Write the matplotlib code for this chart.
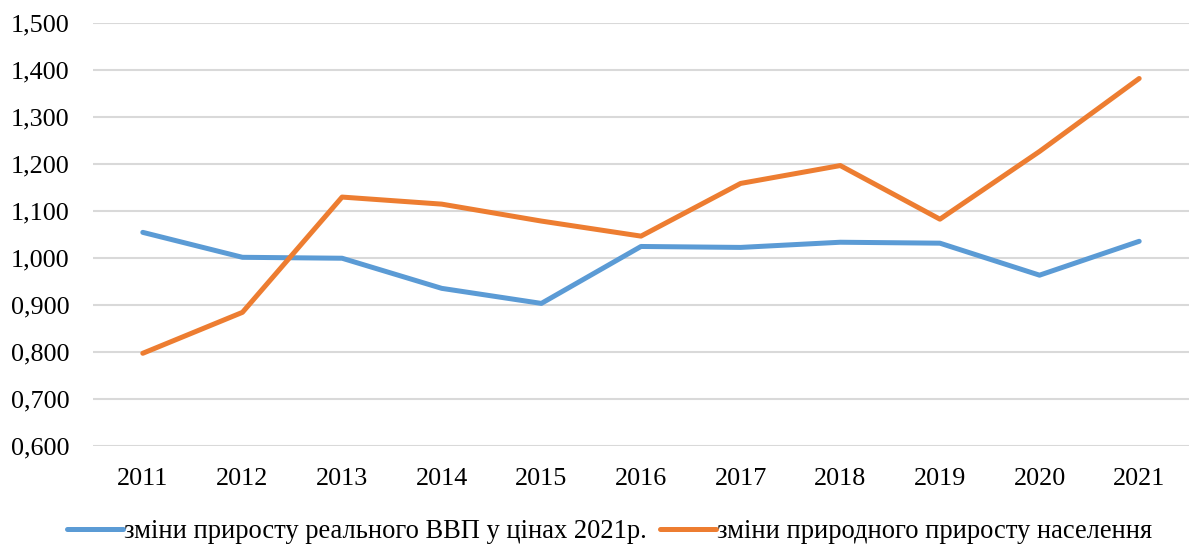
import matplotlib
matplotlib.use("Agg")
import matplotlib.pyplot as plt
from matplotlib.ticker import FuncFormatter

years = ["2011", "2012", "2013", "2014", "2015", "2016", "2017", "2018", "2019", "2020", "2021"]
gdp = [1.054, 1.001, 0.999, 0.935, 0.903, 1.024, 1.022, 1.033, 1.031, 0.963, 1.035]
pop = [0.797, 0.884, 1.129, 1.114, 1.078, 1.046, 1.158, 1.196, 1.082, 1.226, 1.381]
label_gdp = "зміни приросту реального ВВП у цінах 2021р."
label_pop = "зміни природного приросту населення"

plt.rcParams['font.family'] = ['Liberation Serif', 'DejaVu Serif']

fig = plt.figure(figsize=(11.89, 5.45), dpi=100)
ax = fig.add_axes([0.0782, 0.1817, 0.9218, 0.777])

x = list(range(len(years)))
ax.plot(x, gdp, color='#5B9BD5', lw=3.6, solid_capstyle='round', label=label_gdp)
ax.plot(x, pop, color='#ED7D31', lw=3.6, solid_capstyle='round', label=label_pop)

ax.set_xlim(-0.5, len(years) - 0.5)
ax.set_ylim(0.6, 1.5)
ax.set_yticks([0.6 + 0.1 * i for i in range(10)])
ax.yaxis.set_major_formatter(FuncFormatter(lambda v, p: f"{v:.3f}".replace('.', ',')))
ax.set_xticks(x)
ax.set_xticklabels(years)
ax.grid(axis='y', color='#D9D9D9', lw=1.5)
ax.set_axisbelow(True)
for s in ax.spines.values():
    s.set_visible(False)
ax.tick_params(axis='both', length=0, labelsize=18.8, colors='black')
ax.tick_params(axis='y', pad=17)
ax.tick_params(axis='x', pad=16)

fig.legend(loc='center', bbox_to_anchor=(0.513, 0.024), ncol=2, frameon=False,
           fontsize=19.1, handlelength=2.1, handletextpad=0.05, columnspacing=0.5)

fig.savefig("out.png", dpi=100)
